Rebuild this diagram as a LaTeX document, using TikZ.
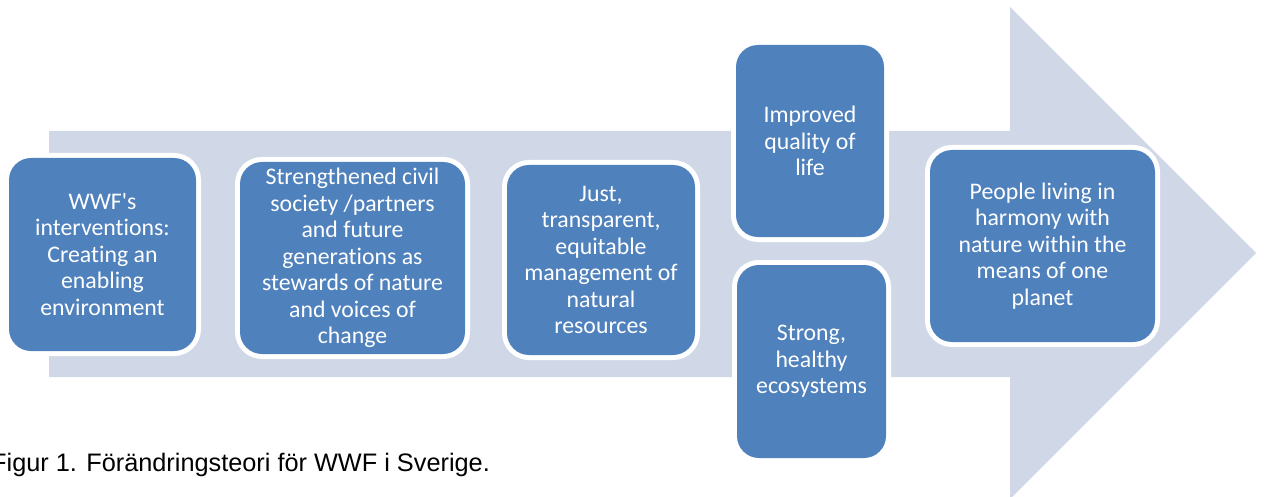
\documentclass[tikz,border=0pt]{standalone}
\usepackage{fontspec}
\setmainfont{Carlito}[Ligatures=NoCommon]
\newfontfamily\capfont{Liberation Sans}
\definecolor{boxblue}{HTML}{4F81BD}
\definecolor{arrowfill}{HTML}{D0D8E8}
\begin{document}
\begin{tikzpicture}[x=1pt,y=-1pt,
  stagebox/.style={rectangle, rounded corners=22pt, fill=boxblue,
    preaction={draw=white, line width=10pt},
    text=white, align=center, inner sep=0pt,
    font=\fontsize{23.8}{26.5}\selectfont}]
\useasboundingbox (0,0) rectangle (1265,497);
\fill[arrowfill] (49,131) -- (1010,131) -- (1010,7) -- (1256,253) -- (1010,499) -- (1010,377) -- (49,377) -- cycle;
\node[stagebox, minimum width=187pt, minimum height=193pt] (wwf) at (102.5,254.5)
  {WWF\textquotesingle s\\interventions:\\Creating an\\enabling\\environment};
\node[stagebox, minimum width=225pt, minimum height=192pt] (civil) at (352.5,258)
  {Strengthened civil\\society /partners\\and future\\generations as\\stewards of nature\\and voices of\\change};
\node[stagebox, minimum width=188pt, minimum height=190pt] (just) at (601,260)
  {Just,\\transparent,\\equitable\\management of\\natural\\resources};
\node[stagebox, minimum width=148pt, minimum height=192pt] (quality) at (810,141)
  {Improved\\quality of\\life};
\node[stagebox, minimum width=149pt, minimum height=193pt] (eco) at (811.5,361.5)
  {Strong,\\healthy\\ecosystems};
\node[stagebox, minimum width=225pt, minimum height=192pt] (people) at (1042.5,246)
  {People living in\\harmony with\\nature within the\\means of one\\planet};
\node[anchor=base west, inner sep=0pt, font=\capfont\fontsize{25.3}{30}\selectfont] (caption) at (-9,471)
  {Figur 1. Förändringsteori för WWF i Sverige.};
\end{tikzpicture}
\end{document}
